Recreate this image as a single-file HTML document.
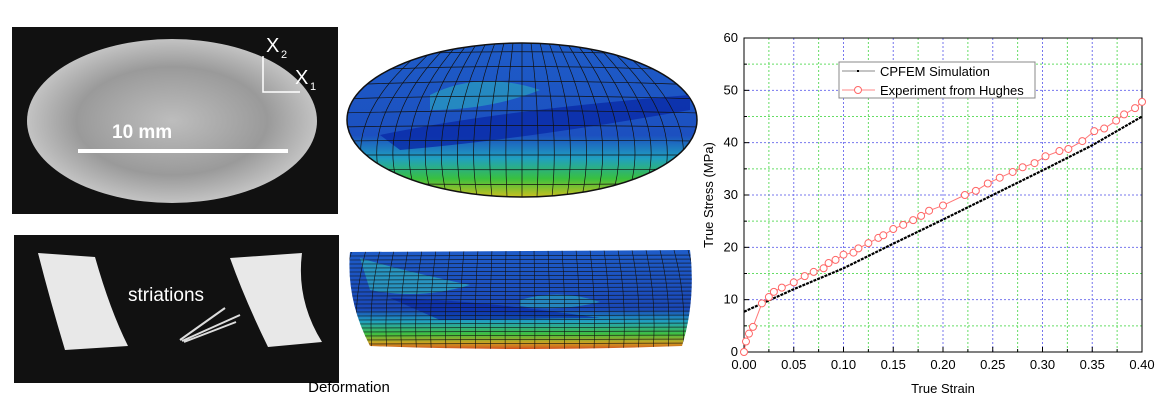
<!DOCTYPE html>
<html><head><meta charset="utf-8"><style>
body{margin:0;width:1162px;height:407px;background:#fff;overflow:hidden;font-family:"Liberation Sans",sans-serif}
svg{position:absolute;left:0;top:0}
</style></head><body>
<svg id="s" width="1162" height="407" viewBox="0 0 1162 407" xmlns="http://www.w3.org/2000/svg">
<defs>
<radialGradient id="ph" cx="50%" cy="50%" r="55%"><stop offset="0" stop-color="#bdbdbd"/><stop offset="0.6" stop-color="#9a9a9a"/><stop offset="1" stop-color="#cfcfcf"/></radialGradient>
<linearGradient id="fe1" x1="0" y1="0" x2="0" y2="1"><stop offset="0" stop-color="#1e5cc8"/><stop offset="0.6" stop-color="#1c50c0"/><stop offset="0.75" stop-color="#20a0c0"/><stop offset="0.88" stop-color="#38c040"/><stop offset="1" stop-color="#c8c020"/></linearGradient>
<linearGradient id="fe2" x1="0" y1="0" x2="0" y2="1"><stop offset="0" stop-color="#1e5cc8"/><stop offset="0.6" stop-color="#1a48b8"/><stop offset="0.72" stop-color="#20a0c0"/><stop offset="0.85" stop-color="#40c040"/><stop offset="0.94" stop-color="#d0a020"/><stop offset="1" stop-color="#d05020"/></linearGradient>
<clipPath id="c1"><ellipse cx="522" cy="120" rx="175" ry="77"/></clipPath>
<clipPath id="c2"><path d="M350 252 L690 250 Q696 300 682 346 Q520 352 370 346 Q346 300 350 252Z"/></clipPath>
</defs>
<rect x="12" y="27" width="326" height="187" fill="#111"/>
<ellipse cx="172" cy="121" rx="145" ry="82" fill="url(#ph)"/>
<rect x="78" y="149" width="210" height="4" fill="#fff"/>
<text x="112" y="138" font-size="19" fill="#fff" font-weight="bold">10 mm</text>
<text x="266" y="52" font-size="20" fill="#fff">X</text><text x="281" y="58" font-size="11" fill="#fff">2</text>
<text x="295" y="84" font-size="20" fill="#fff">X</text><text x="310" y="90" font-size="11" fill="#fff">1</text>
<path d="M263 56 V92 H300" stroke="#fff" stroke-width="1.5" fill="none"/>
<rect x="14" y="235" width="325" height="148" fill="#111"/>
<path d="M38 253 L95 257 Q110 310 128 346 L65 350 Q50 300 38 253Z" fill="#e8e8e8"/>
<path d="M230 258 L302 253 Q296 300 322 342 L268 347 Q245 300 230 258Z" fill="#e8e8e8"/>
<text x="128" y="301" font-size="19" fill="#fff">striations</text>
<path d="M180 340 L225 308 M182 341 L240 315 M184 342 L236 322" stroke="#ddd" stroke-width="2"/>
<ellipse cx="522" cy="120" rx="175" ry="77" fill="url(#fe1)" stroke="#111" stroke-width="1.5"/>
<g clip-path="url(#c1)">
<path d="M380 135 Q500 110 690 95 L690 110 Q520 140 400 150Z" fill="#0a2aa8" opacity="0.8"/>
<path d="M430 95 Q480 70 540 90 Q490 110 430 110Z" fill="#2aa0c0" opacity="0.7"/>
<g id="m1" stroke="#111" stroke-width="0.7" fill="none"></g>
</g>
<path d="M350 252 L690 250 Q696 300 682 346 Q520 352 370 346 Q346 300 350 252Z" fill="url(#fe2)"/>
<g clip-path="url(#c2)">
<path d="M360 258 Q400 270 470 285 Q420 300 370 290Z" fill="#30c0c0" opacity="0.6"/>
<path d="M390 298 Q480 300 600 318 L440 320Z" fill="#0a2aa8" opacity="0.7"/>
<path d="M520 300 Q560 288 600 302 Q560 312 520 306Z" fill="#2aa0c0" opacity="0.7"/>
<g id="m2" stroke="#111" stroke-width="0.6" fill="none"></g>
</g>
<text x="349" y="392" font-size="15" text-anchor="middle" fill="#000">Deformation</text>
<g id="grid"></g>
<rect x="744" y="38" width="398" height="314" fill="none" stroke="#000" stroke-width="1"/>
<g id="ax" font-size="13" fill="#000"></g>
<text x="943" y="393" font-size="13" text-anchor="middle">True Strain</text>
<text transform="translate(713,195) rotate(-90)" font-size="13" text-anchor="middle">True Stress (MPa)</text>
<g id="ser"></g>
<rect x="839" y="62" width="196" height="36" fill="#fff" stroke="#888" stroke-width="1"/>
<line x1="842" y1="71" x2="875" y2="71" stroke="#888"/><rect x="857" y="70" width="2" height="2" fill="#000"/>
<text x="880" y="76" font-size="13">CPFEM Simulation</text>
<line x1="842" y1="90" x2="875" y2="90" stroke="#f88"/><circle cx="858" cy="90" r="3.5" fill="#fff" stroke="#f66"/>
<text x="880" y="95" font-size="13">Experiment from Hughes</text>
</svg>
<script>
const NS="http://www.w3.org/2000/svg";
function el(p,t,a){const e=document.createElementNS(NS,t);for(const k in a)e.setAttribute(k,a[k]);document.getElementById(p).appendChild(e);return e;}
const X=v=>744+v*995, Y=v=>352-v*314/60;
for(let i=1;i<16;i++){const x=X(i*0.025);el('grid','line',{x1:x,y1:38,x2:x,y2:352,stroke:i%2?'#6d6':'#77e','stroke-width':1,'stroke-dasharray':'2,2'});}
for(let i=1;i<12;i++){const y=Y(i*5);el('grid','line',{x1:744,y1:y,x2:1142,y2:y,stroke:i%2?'#6d6':'#77e','stroke-width':1,'stroke-dasharray':'2,2'});}
for(let i=0;i<=16;i++){const x=X(i*0.025);el('ax','line',{x1:x,y1:352,x2:x,y2:352-(i%2?3:5),stroke:'#000'});
 if(i%2==0){const t=el('ax','text',{x:x,y:369,'text-anchor':'middle'});t.textContent=(i*0.025).toFixed(2);}}
for(let i=0;i<=12;i++){const y=Y(i*5);el('ax','line',{x1:744,y1:y,x2:744+(i%2?3:5),y2:y,stroke:'#000'});
 if(i%2==0){const t=el('ax','text',{x:738,y:y+4,'text-anchor':'end'});t.textContent=i*5;}}
const sim=[[0,7.7],[0.05,12],[0.1,16],[0.15,20.7],[0.2,25.3],[0.25,30],[0.3,34.7],[0.35,39.5],[0.4,45]];
let d='';sim.forEach((p,i)=>d+=(i?'L':'M')+X(p[0])+' '+Y(p[1]));
el('ser','path',{d:d,stroke:'#000','stroke-width':2.2,fill:'none','stroke-dasharray':'3,1'});
const ex=[[0,0],[0.002,2],[0.005,3.5],[0.009,4.8],[0.018,9.3],[0.025,10.5],[0.03,11.5],[0.038,12.3],[0.05,13.3],[0.061,14.5],[0.07,15.3],[0.08,16],[0.085,17],[0.092,17.6],[0.1,18.6],[0.11,19],[0.115,19.8],[0.125,20.8],[0.135,21.8],[0.14,22.3],[0.15,23.5],[0.16,24.3],[0.17,25.2],[0.178,26],[0.186,27],[0.2,28],[0.222,30],[0.233,30.8],[0.245,32.2],[0.257,33.3],[0.27,34.4],[0.28,35.3],[0.292,36.1],[0.303,37.4],[0.317,38.4],[0.326,38.8],[0.34,40.3],[0.352,42.2],[0.362,42.7],[0.374,44.2],[0.382,45.4],[0.393,46.6],[0.4,47.8]];
d='';ex.forEach((p,i)=>d+=(i?'L':'M')+X(p[0])+' '+Y(p[1]));
el('ser','path',{d:d,stroke:'#f77','stroke-width':1,fill:'none'});
ex.forEach(p=>el('ser','circle',{cx:X(p[0]),cy:Y(p[1]),r:3.5,fill:'#fff',stroke:'#f66','stroke-width':1}));
for(let i=-10;i<=10;i++){const x=522+i*17;el('m1','path',{d:`M${522+i*9} 43 Q${x+i*2} 120 ${522+i*15} 197`});}
for(let j=1;j<11;j++){const y=43+j*14;el('m1','path',{d:`M340 ${y} Q522 ${y-12+j*1.5} 700 ${y}`});}
for(let i=0;i<=24;i++){const x=352+i*14;el('m2','path',{d:`M${x} 250 Q${x+(i-12)*1.2} 300 ${x+(i-12)*0.8} 350`});}
for(let j=1;j<24;j++){const y=252+j*4;el('m2','path',{d:`M345 ${y} L700 ${y-1}`});}
</script>
</body></html>
